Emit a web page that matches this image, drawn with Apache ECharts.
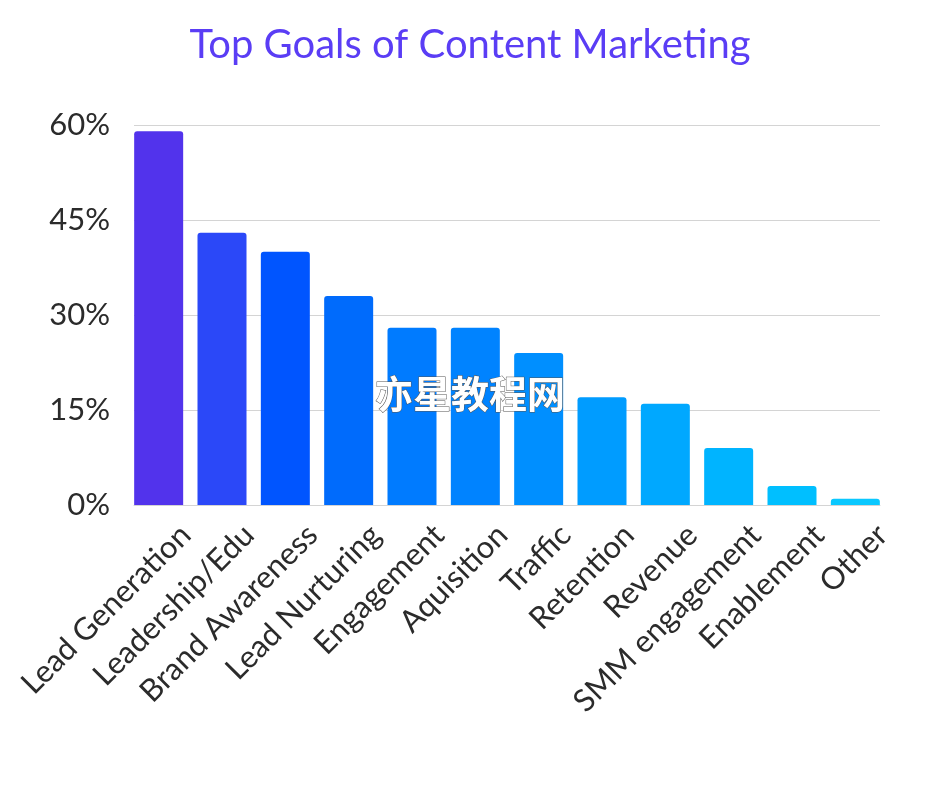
<!DOCTYPE html>
<html>
<head>
<meta charset="utf-8">
<script src="https://cdn.jsdelivr.net/npm/echarts@6/dist/echarts.min.js"></script>
<style>html,body{margin:0;padding:0;background:#fff}#c{width:940px;height:788px}</style>
</head>
<body>
<div id="c"></div>
<script>
var titleText = 'Top Goals of Content Marketing';
var categories = ['Lead Generation','Leadership/Edu','Brand Awareness','Lead Nurturing','Engagement','Aquisition','Traffic','Retention','Revenue','SMM engagement','Enablement','Other'];
var values = [59, 43, 40, 33, 28, 28, 24, 17, 16, 9, 3, 1];
var barColors = ['#5233ec','#2b48f8','#0055ff','#006bfc','#007bff','#0083ff','#008fff','#009cff','#00a8ff','#00b4ff','#00bfff','#0ac8ff'];
var yTicks = [0, 15, 30, 45, 60];
var watermark = '亦星教程网';

var chart = echarts.init(document.getElementById('c'), null, {renderer:'canvas'});
var FONT = 'Lato';
var option = {
  backgroundColor: '#fff',
  animation: false,
  title: {
    text: titleText, left: 'center', top: 20,
    textStyle: {fontFamily: FONT, fontSize: 40, fontWeight: 'normal', color: '#5a3df5'}
  },
  grid: [
    {left: 134, right: 60, top: 125, bottom: 283},
    {left: 127, right: 53, top: 125, bottom: 283},
    {left: 154, right: 26, top: 125, bottom: 283}
  ],
  xAxis: [
    {gridIndex: 0, type: 'category', data: categories, axisLine: {show: true, lineStyle: {color: '#d4d4d4', width: 1}}, axisTick: {show: false}, axisLabel: {show: false}},
    {gridIndex: 1, type: 'category', data: categories, axisLine: {show: false}, axisTick: {show: false}, axisLabel: {show: false}},
    {gridIndex: 2, type: 'category', data: categories, axisLine: {show: false}, axisTick: {show: false},
     axisLabel: {show: true, interval: 0, rotate: 45, margin: 25, fontFamily: FONT, fontSize: 31, color: '#2b2b2b'}}
  ],
  yAxis: [
    {gridIndex: 0, type: 'value', min: yTicks[0], max: yTicks[yTicks.length-1], interval: 15,
     axisLine: {show: false}, axisTick: {show: false},
     axisLabel: {margin: 24, fontFamily: FONT, fontSize: 31, color: '#2b2b2b', formatter: '{value}%'},
     splitLine: {show: true, lineStyle: {color: '#d4d4d4', width: 1}}},
    {gridIndex: 1, type: 'value', min: yTicks[0], max: yTicks[yTicks.length-1], interval: 15, show: false, splitLine: {show: false}},
    {gridIndex: 2, type: 'value', min: yTicks[0], max: yTicks[yTicks.length-1], interval: 15, show: false, splitLine: {show: false}}
  ],
  series: [{
    type: 'bar', xAxisIndex: 1, yAxisIndex: 1,
    barWidth: 49,
    data: values.map(function(v, i){ return {value: v, itemStyle: {color: barColors[i], borderRadius: [3,3,0,0]}}; }),
    z: 3
  }],
  graphic: [{
    type: 'text', left: 'center', top: 374, z: 100,
    style: {text: watermark, fontFamily: 'Noto Sans CJK SC', fontWeight: 'bold', fontSize: 38, fill: '#ffffff', stroke: '#555', lineWidth: 1}
  }]
};
chart.setOption(option);
</script>
</body>
</html>
